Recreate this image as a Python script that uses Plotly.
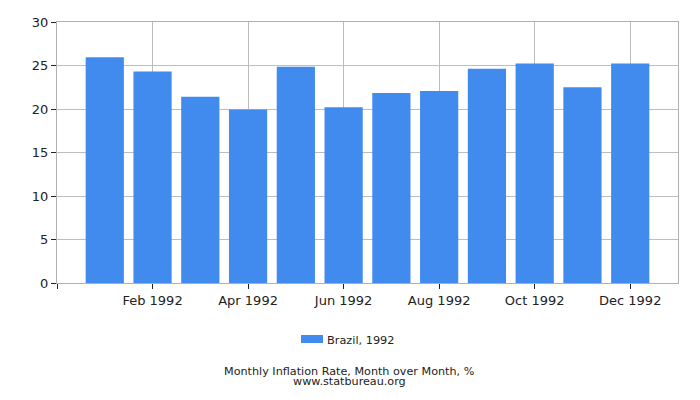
import plotly.graph_objects as go

months = ["Jan 1992", "Feb 1992", "Mar 1992", "Apr 1992", "May 1992", "Jun 1992",
          "Jul 1992", "Aug 1992", "Sep 1992", "Oct 1992", "Nov 1992", "Dec 1992"]
values = [25.94, 24.32, 21.40, 19.93, 24.86, 20.21, 21.83, 22.08, 24.63, 25.24, 22.49, 25.24]
series_name = "Brazil, 1992"
tick_labels = ["", "Feb 1992", "Apr 1992", "Jun 1992", "Aug 1992", "Oct 1992", "Dec 1992"]
y_ticks = [0, 5, 10, 15, 20, 25, 30]
bar_color = "#418bef"

x_pos = list(range(len(months)))
tick_vals = [-1] + [i for i in x_pos if i % 2 == 1]

fig = go.Figure()
fig.add_trace(go.Bar(
    x=x_pos, y=values, name=series_name, width=0.8,
    marker=dict(color=bar_color, line=dict(width=0)),
    showlegend=False,
    hovertext=months,
))

font = "DejaVu Sans, Verdana, sans-serif"
txt = "#222"
plot_h = 261.0
fig.update_layout(
    width=684, height=384,
    margin=dict(l=49, r=14, t=14.3, b=108.7, autoexpand=False),
    paper_bgcolor="white", plot_bgcolor="white",
    font=dict(family=font, size=13, color=txt),
    xaxis=dict(range=[-1, 12], tickmode="array", tickvals=tick_vals, ticktext=tick_labels,
               showgrid=True, gridcolor="#bdbdbd", gridwidth=1, automargin=False,
               showline=True, linecolor="#b0b0b0", linewidth=1, mirror=True,
               ticks="outside", ticklen=5, tickcolor="#222", zeroline=False,
               tickfont=dict(size=13)),
    yaxis=dict(range=[0, 30], tickmode="array", tickvals=y_ticks,
               showgrid=True, gridcolor="#bdbdbd", gridwidth=1, automargin=False,
               showline=True, linecolor="#b0b0b0", linewidth=1, mirror=True,
               ticks="outside", ticklen=5, tickcolor="#222", zeroline=False,
               tickfont=dict(size=13)),
    shapes=[
        dict(type="rect", xref="paper", yref="paper",
             x0=0.3929, x1=0.4283, y0=-60 / plot_h, y1=-52 / plot_h,
             fillcolor=bar_color, line=dict(width=0)),
    ],
    annotations=[
        dict(text=series_name, xref="paper", yref="paper", x=0.4316, y=-57 / plot_h,
             xanchor="left", yanchor="middle", showarrow=False,
             font=dict(size=11.3, color=txt)),
        dict(text="Monthly Inflation Rate, Month over Month, %",
             xref="paper", yref="paper", x=0.4718, y=-88 / plot_h, xanchor="center", yanchor="middle",
             showarrow=False, font=dict(size=11.2, color=txt)),
        dict(text="www.statbureau.org",
             xref="paper", yref="paper", x=0.4718, y=-98 / plot_h, xanchor="center", yanchor="middle",
             showarrow=False, font=dict(size=11.2, color=txt)),
    ],
)

fig.write_html("out.html")
